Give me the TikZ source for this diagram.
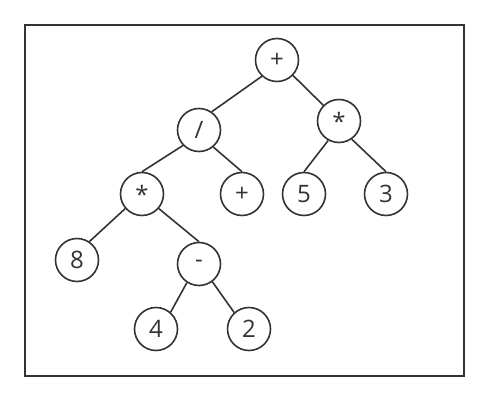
\documentclass[tikz,border=0pt]{standalone}
\usepackage{fontspec}
\setmainfont{Open Sans}
\usetikzlibrary{positioning}
\definecolor{inkgray}{HTML}{333333}
\tikzset{
	vertex/.style={draw=inkgray, circle, line width=1.6pt, minimum size=43pt, inner sep=0pt, text=inkgray, font=\fontsize{24}{26}\selectfont},
	edge/.style={draw=inkgray, line width=1.6pt},
	frame/.style={draw=inkgray, line width=2pt}
}
\begin{document}
\begin{tikzpicture}[x=1pt, y=-1pt]
	\useasboundingbox (0,0) rectangle (489,401);
	\draw[frame] (24.7,24.7) rectangle (464,376);
	\node[vertex] (root) at (277,60) {+};
	\node[vertex] (div) at (199,130) {/};
	\node[vertex] (mulR) at (339,121) {*};
	\node[vertex] (mulL) at (142,194) {*};
	\node[vertex] (plus) at (242,194) {+};
	\node[vertex] (five) at (304,194) {5};
	\node[vertex] (three) at (386,194) {3};
	\node[vertex] (eight) at (77,260) {8};
	\node[vertex] (minus) at (199,264) {-};
	\node[vertex] (four) at (156,329) {4};
	\node[vertex] (two) at (249,329) {2};
	\draw[edge] (root.227) -- (div.55);
	\draw[edge] (root.316) -- (mulR.135);
	\draw[edge] (div.224) -- (mulL.north);
	\draw[edge] (div.310) -- (plus.north);
	\draw[edge] (mulR.241) -- (five.north);
	\draw[edge] (mulR.305) -- (three.north);
	\draw[edge] (mulL.221) -- (eight.56);
	\draw[edge] (mulL.319) -- (minus.north);
	\draw[edge] (minus.237) -- (four.49);
	\draw[edge] (minus.307) -- (two.132);
\end{tikzpicture}
\end{document}
